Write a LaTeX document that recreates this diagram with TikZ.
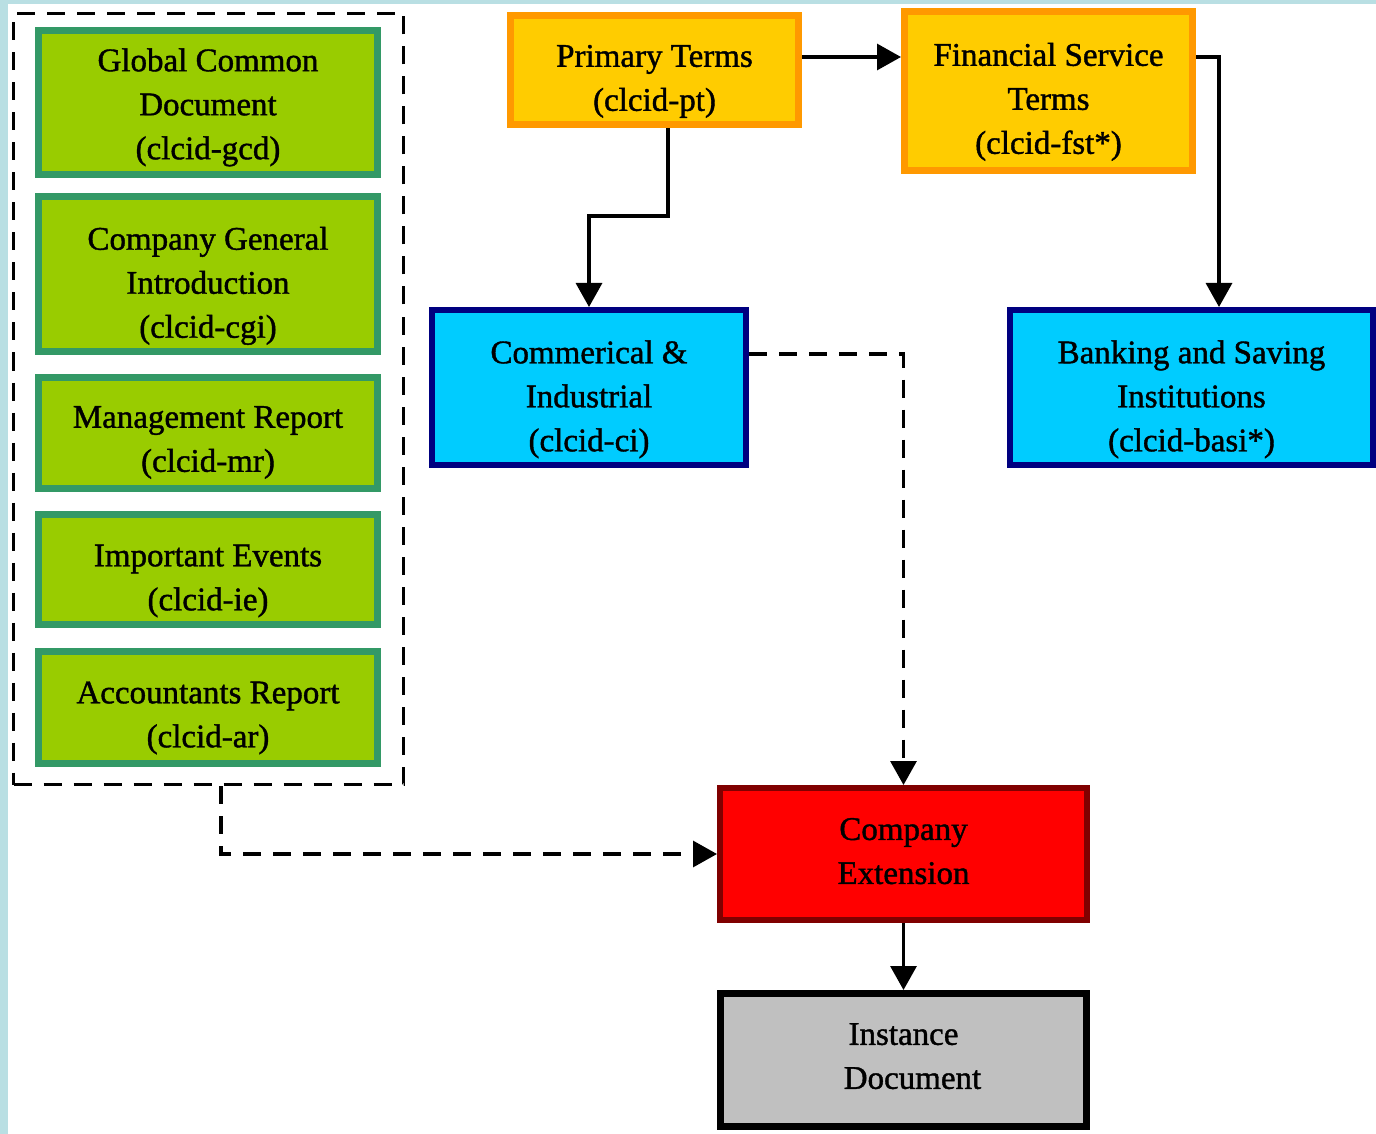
\documentclass[tikz,border=0pt]{standalone}
\usepackage{fontspec}
\setmainfont{Liberation Serif}
\newfontfamily\boxfont{Liberation Serif}[FakeBold=1.2]
\usetikzlibrary{arrows.meta}
\definecolor{bgblue}{HTML}{B9DFE3}
\definecolor{grnfill}{HTML}{99CC00}
\definecolor{grnline}{HTML}{339966}
\definecolor{orgfill}{HTML}{FFCC00}
\definecolor{orgline}{HTML}{FF9900}
\definecolor{cyfill}{HTML}{00CCFF}
\definecolor{cyline}{HTML}{000080}
\definecolor{redline}{HTML}{800000}
\definecolor{gryfill}{HTML}{C0C0C0}
% push the first line down / last line up
\newcommand{\dn}[1]{\rule{0pt}{#1}}
\newcommand{\upl}[1]{\rule[-#1]{0pt}{#1}}
\tikzset{
  box/.style={draw,align=center,inner sep=0pt,font=\boxfont\fontsize{16.5}{22}\selectfont},
  greenbox/.style={box,fill=grnfill,draw=grnline,line width=3.5pt,minimum width=169.5pt},
  termbox/.style={box,fill=orgfill,draw=orgline,line width=3.5pt,minimum width=144pt},
  indbox/.style={box,fill=cyfill,draw=cyline,line width=3pt,minimum height=77.5pt},
  arr/.style={line width=1.6pt,-{Triangle[length=12pt,width=13pt]}},
  dasharr/.style={arr,dash pattern=on 9pt off 6pt}
}
\begin{document}
\begin{tikzpicture}[x=0.5pt,y=-0.5pt]
\useasboundingbox (0,0) rectangle (1376,1134);
\fill[bgblue] (0,0) rectangle (1376,1134);
\fill[white] (8,4) rectangle (1376,1134);
% taxonomy group
\node[draw,line width=1.8pt,dash pattern=on 9pt off 6pt,minimum width=195pt,minimum height=385.5pt] (grp) at (208.5,399) {};
\node[greenbox,minimum height=72pt] (gcd) at (208,102.5) {\dn{16.3pt}Global Common\\Document\\(clcid-gcd)};
\node[greenbox,minimum height=77.5pt] (cgi) at (208,274) {\dn{23.3pt}Company General\\Introduction\\(clcid-cgi)};
\node[greenbox,minimum height=55.5pt] (mr) at (208,433) {\dn{20.3pt}Management Report\\(clcid-mr)};
\node[greenbox,minimum height=55pt] (ie) at (208,569.5) {\dn{22.3pt}Important Events\\(clcid-ie)};
\node[greenbox,minimum height=56pt] (ar) at (208,707.5) {\dn{21.3pt}Accountants Report\\(clcid-ar)};
% terms
\node[termbox,minimum height=54.5pt] (pt) at (654.5,70) {\dn{22.3pt}Primary Terms\\(clcid-pt)};
\node[termbox,minimum height=79.5pt] (fst) at (1048.5,91) {\dn{22.3pt}Financial Service\\Terms\\(clcid-fst*)};
% industries
\node[indbox,minimum width=157pt] (ci) at (589,387.5) {\dn{23.3pt}Commerical \&\\Industrial\\(clcid-ci)};
\node[indbox,minimum width=181.5pt] (basi) at (1191.5,387.5) {\dn{23.3pt}Banking and Saving\\Institutions\\(clcid-basi*)};
% extension and instance
\node[box,fill=red,draw=redline,line width=3pt,minimum width=183.5pt,minimum height=66pt] (ext) at (903.5,854) {Company\\Extension\upl{3pt}};
\node[box,fill=gryfill,draw=black,line width=3.5pt,minimum width=183pt,minimum height=66.5pt] (inst) at (903.5,1060) {Instance\\\hspace*{9pt}Document\upl{4pt}};
% connectors
\draw[arr] (pt.east |- 0,57) -- (fst.west |- 0,57);
\draw[arr] ([xshift=6.75pt]pt.south) -- ++(0,88) -| (ci.north);
\draw[arr] (fst.east |- 0,57) -| ([xshift=13.75pt]basi.north);
\draw[dasharr] ([yshift=16.75pt]ci.east) -| (ext.north);
\draw[dasharr] ([xshift=6.25pt]grp.south) |- (ext.west);
\draw[arr] (ext.south) -- (inst.north);
\end{tikzpicture}
\end{document}
